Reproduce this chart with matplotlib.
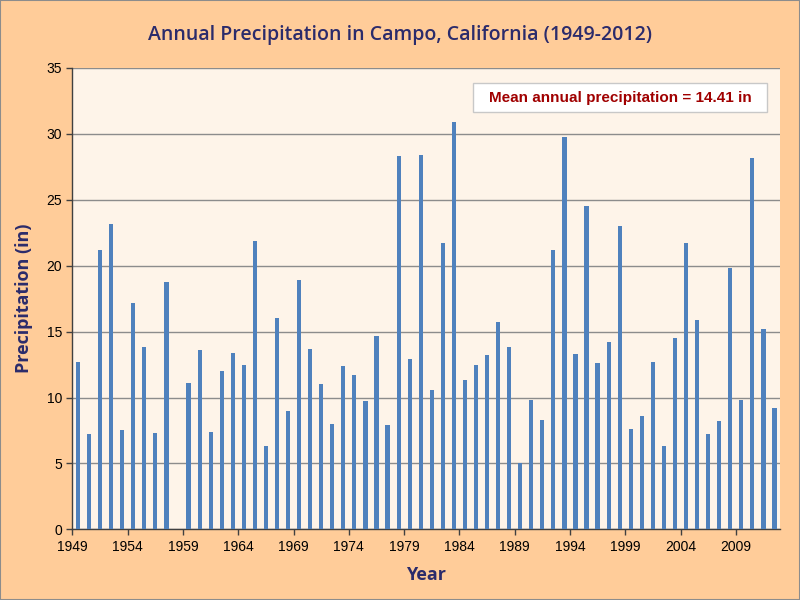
import numpy as np
import matplotlib
matplotlib.use("Agg")
from matplotlib import pyplot as plt
from matplotlib.patches import Rectangle

# Datos (pulgadas por año); 1958 sin dato
years = list(range(1949, 2013))
precip = [
    12.7, 7.2, 21.2, 23.2, 7.5, 17.2, 13.8, 7.3, 18.8, 0.0,
    11.1, 13.6, 7.4, 12.0, 13.4, 12.5, 21.9, 6.3, 16.0, 9.0,
    18.9, 13.7, 11.0, 8.0, 12.4, 11.7, 9.7, 14.7, 7.9, 28.3,
    12.9, 28.4, 10.6, 21.7, 30.9, 11.3, 12.5, 13.2, 15.7, 13.8,
    5.0, 9.8, 8.3, 21.2, 29.8, 13.3, 24.5, 12.6, 14.2, 23.0,
    7.6, 8.6, 12.7, 6.3, 14.5, 21.7, 15.9, 7.2, 8.2, 19.8,
    9.8, 28.2, 15.2, 9.2,
]
mean_text = "Mean annual precipitation = 14.41 in"

plt.rcParams['font.family'] = ['Liberation Sans', 'DejaVu Sans']

fig = plt.figure(figsize=(8, 6), dpi=100, facecolor='#FFCC99')
ax = fig.add_axes([0.0906, 0.1178, 0.8844, 0.7689])
ax.set_facecolor('#FEF4E9')

x = np.arange(len(years))
ax.bar(x, precip, width=0.38, color='#4F81BD', zorder=3)

ax.set_xlim(-0.5, len(years) - 0.5)
ax.set_ylim(0, 35)
ax.set_yticks(range(0, 36, 5))
ax.yaxis.grid(True, color='#8C8C8C', linewidth=1.0, zorder=0)

# etiquetas cada 5 años, en el borde izquierdo de cada categoria
tick_idx = list(range(0, len(years), 5))
ax.set_xticks([i - 0.5 for i in tick_idx])
ax.set_xticklabels([str(years[i]) for i in tick_idx])

for s in ['top', 'right']:
    ax.spines[s].set_visible(False)
for s in ['left', 'bottom']:
    ax.spines[s].set_color('#404040')
    ax.spines[s].set_linewidth(1.0)
ax.tick_params(axis='both', colors='#404040', labelcolor='black',
               labelsize=10, length=4, width=1.0, direction='out')

navy = '#2B2B6B'
fig.text(0.5, 0.942, 'Annual Precipitation in Campo, California (1949-2012)',
         ha='center', va='center', fontsize=14, fontweight='semibold', color=navy,
         family=['Open Sans', 'DejaVu Sans'])
ax.set_xlabel('Year', fontsize=13, fontweight='bold', color=navy, labelpad=9,
              family=['Open Sans', 'DejaVu Sans'])
ax.set_ylabel('Precipitation (in)', fontsize=13, fontweight='bold', color=navy,
              labelpad=10, family=['Open Sans', 'DejaVu Sans'])

# cuadro con la media
ax.add_patch(Rectangle((0.566, 0.904), 0.416, 0.064, transform=ax.transAxes,
                       facecolor='white', edgecolor='#C8C8C8', linewidth=1.0,
                       zorder=5))
ax.text(0.774, 0.936, mean_text, transform=ax.transAxes, ha='center', va='center',
        fontsize=11, fontweight='bold', color='#A00000', zorder=6)

# borde exterior
fig.patches.append(Rectangle((0, 0), 1, 1, transform=fig.transFigure,
                             fill=False, edgecolor='#8C8C8C', linewidth=1.5))

fig.savefig('out.png', dpi=100, facecolor=fig.get_facecolor())
